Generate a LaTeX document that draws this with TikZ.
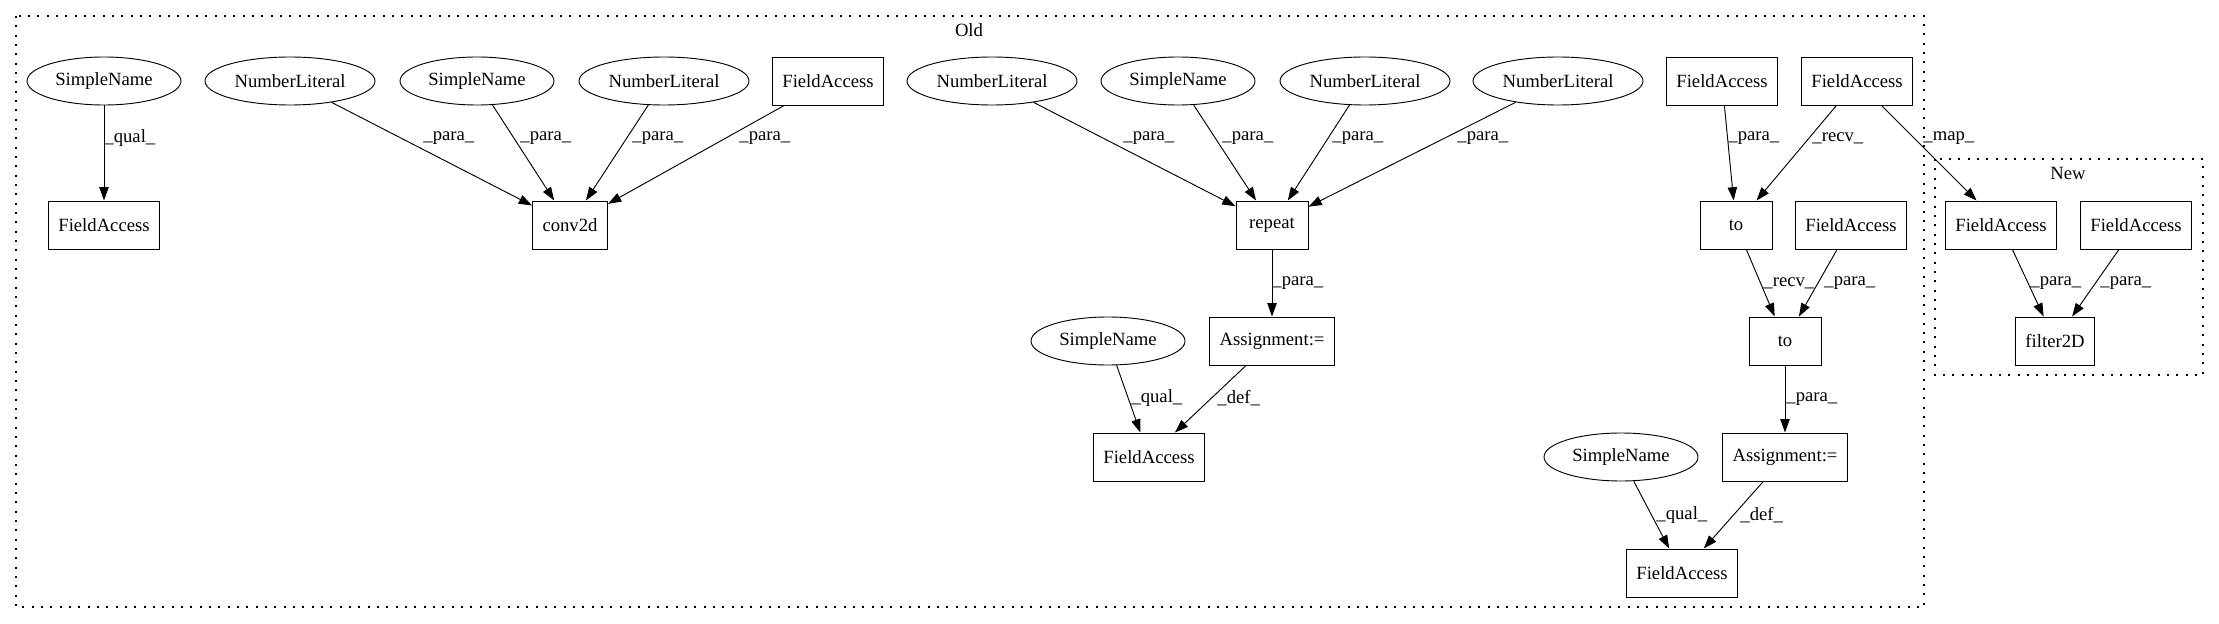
\documentclass[tikz,border=0pt]{standalone}
\usepackage{fontspec}
\setmainfont{Liberation Serif}
\usetikzlibrary{shapes.geometric,arrows.meta}

\begin{document}
\begin{tikzpicture}[x=0.75pt,y=-0.75pt,font=\fontsize{14}{16}\selectfont,
  fbox/.style={draw,rectangle,minimum height=36pt,minimum width=54pt,inner xsep=7.5pt,line width=0.7pt},
  oval/.style={draw,ellipse,minimum height=36pt,inner sep=0pt,line width=0.7pt},
  sname/.style={oval,minimum width=115.5pt},
  nlit/.style={oval,minimum width=127.5pt},
  edge/.style={-{Triangle[length=10pt,width=7pt]},line width=0.7pt},
  lbl/.style={anchor=west,inner sep=0pt},
  cluster/.style={line width=1pt,dash pattern=on 1.5pt off 5.5pt}]
\useasboundingbox (0,0) rectangle (2219,624);

% clusters
\draw[cluster] (16,16) rectangle (1924,607);
\node (old) at (969,30) {Old};
\draw[cluster] (1935,159) rectangle (2203,375);
\node (new) at (2068,173) {New};

% first rank
\foreach \n/\s/\x/\t in {sn1/sname/104/SimpleName, nl1/nlit/290/NumberLiteral,
    sn2/sname/477/SimpleName, nl2/nlit/664/NumberLiteral, fa2/fbox/828/FieldAccess,
    nl3/nlit/992/NumberLiteral, sn3/sname/1178/SimpleName, nl4/nlit/1365/NumberLiteral,
    nl5/nlit/1558/NumberLiteral, fa3/fbox/1722/FieldAccess, fa4/fbox/1857/FieldAccess}
  \node[\s] (\n) at (\x,81) {\t};

% the other ranks
\node[fbox] (fa1) at (104,225) {FieldAccess};
\node[fbox] (conv) at (570,225) {conv2d};
\node[fbox] (rep) at (1272,225) {repeat};
\node[fbox] (to1) at (1736,225) {to};
\node[fbox] (fa5) at (1851,225) {FieldAccess};
\node[fbox] (fa6) at (2001,225) {FieldAccess};
\node[fbox] (fa7) at (2136,225) {FieldAccess};

\node[sname] (sn4) at (1108,341) {SimpleName};
\node[fbox] (ass1) at (1272,341) {Assignment:=};
\node[fbox] (to2) at (1785,341) {to};
\node[fbox] (filt) at (2055,341) {filter2D};

\node[fbox] (fa8) at (1149,457) {FieldAccess};
\node[sname] (sn5) at (1621,457) {SimpleName};
\node[fbox] (ass2) at (1785,457) {Assignment:=};

\node[fbox] (fa9) at (1682,573) {FieldAccess};

% edges with their labels
\foreach \a/\b/\l/\x/\y in {sn1/fa1/qual/104/138, nl1/conv/para/423/138,
    sn2/conv/para/520/138, nl2/conv/para/632/138, fa2/conv/para/739/138,
    nl3/rep/para/1123/138, sn3/rep/para/1222/138, nl4/rep/para/1332/138,
    nl5/rep/para/1457/138, rep/ass1/para/1272/283, sn4/fa8/qual/1131/398,
    ass1/fa8/def/1217/398, fa3/to1/para/1728/138, fa4/to1/recv/1812/138,
    fa4/fa6/map/1923/138, to1/to2/recv/1763/283, fa5/to2/para/1824/283,
    to2/ass2/para/1786/399, sn5/fa9/qual/1656/515, ass2/fa9/def/1740/515,
    fa6/filt/para/2030/283, fa7/filt/para/2100/283}
  \draw[edge] (\a) -- (\b) node[lbl] at (\x,\y) {\_\l\_};
\end{tikzpicture}
\end{document}
